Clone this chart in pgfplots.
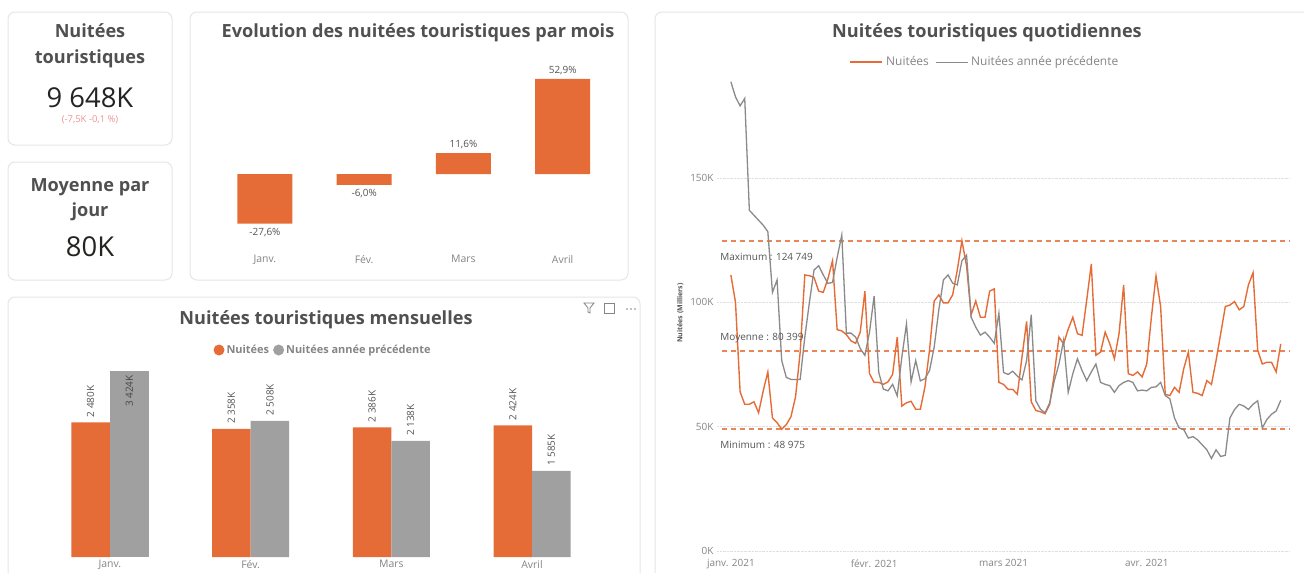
\documentclass[border=0pt]{standalone}
\usepackage{fontspec}
\setmainfont{Open Sans}
\usepackage{pgfplots}
\usepackage{pgfplotstable}
\pgfplotsset{compat=1.18}

\definecolor{pbiorange}{HTML}{E66C37}
\definecolor{pbigrey}{HTML}{A0A0A0}
\definecolor{linegrey}{HTML}{8A8A8A}
\definecolor{titlegrey}{HTML}{505050}
\definecolor{labelgrey}{HTML}{555555}
\definecolor{tickgrey}{HTML}{858585}
\definecolor{cardline}{HTML}{E6E6E6}
\definecolor{refline}{HTML}{EA8459}
\definecolor{deltared}{HTML}{EE9494}
\definecolor{kpiblack}{HTML}{252423}

% daily values, thousands (day 0 = 1 Jan 2021)
\pgfplotstableread{
day nuit prev
0 111 188.7
1 100 182.6
2 64 179
3 59 182
4 59 137
5 60 135
6 55.6 133
7 64.4 131
8 72 128.4
9 53.5 104
10 51.6 109
11 48.975 76.6
12 50.8 69.8
13 54 69
14 62 69
15 80 69
16 111 86
17 110.7 100
18 110 113
19 104.5 114.7
20 104 111
21 109.5 107.6
22 116.7 108
23 89 118
24 88.5 127
25 87 87.6
26 84.5 87.6
27 83.5 86
28 88 81.4
29 104.5 78.7
30 71.3 88
31 67.8 102.5
32 67.8 71.8
33 67 65.1
34 68 64.4
35 71 67
36 86 62.4
37 58.3 78
38 59.6 91.3
39 60.2 68
40 57 76.6
41 57 68.4
42 66 69.3
43 81 72.6
44 100.5 82
45 103 97
46 99.8 109
47 99.8 111
48 103 107.7
49 113 107
50 124.749 116.7
51 114.7 119
52 95 94
53 100.5 90
54 94 86.8
55 94 88
56 104.5 86
57 105.4 83.5
58 67.8 95.6
59 67 71.8
60 65 71
61 65 72.3
62 63 70.3
63 78 68.8
64 92.3 76.6
65 60 95
66 56.5 60.4
67 56 57
68 55.2 55.6
69 59 59.6
70 71.3 68.5
71 86 75.2
72 83.3 84.7
73 89.2 63.8
74 94 71.3
75 87.4 77.3
76 86.7 72.6
77 100.8 68.5
78 115.4 72
79 78.7 75.2
80 80 67.8
81 88 67
82 83.3 66.5
83 77.3 63.8
84 87.4 66.5
85 107 67.8
86 71.3 68.5
87 70.6 67.8
88 72 64.4
89 70 64.7
90 75.2 64.4
91 94 65.8
92 110.6 66
93 98.3 67.8
94 63 62.5
95 62.5 61.2
96 65.8 53.5
97 63.8 49.5
98 73.3 48.8
99 80 45.4
100 63.8 46
101 63.4 44.7
102 62.5 42.7
103 68.5 40.7
104 67 37.2
105 76.6 40.7
106 87.4 38
107 98.3 38.5
108 98.9 53.5
109 100.3 56.9
110 97 59
111 98.3 58.3
112 107 56.9
113 111.9 59
114 80.8 60.4
115 75.2 49.5
116 75.9 52.9
117 75.9 55
118 72 56.3
119 83.3 60.6
}\daily

\begin{document}
\begin{tikzpicture}
\useasboundingbox (0,0) rectangle (1304bp,-573bp);
\fill[white] (0,0) rectangle (1304bp,-573bp);

% cards
\begin{scope}[cardline, line width=1bp, rounded corners=7bp]
  \draw (8bp,-12bp) rectangle (172bp,-145bp);
  \draw (8bp,-162bp) rectangle (172bp,-280bp);
  \draw (190bp,-12bp) rectangle (628bp,-280bp);
  \draw (8bp,-297bp) rectangle (640bp,-585bp);
  \draw (655bp,-12bp) rectangle (1310bp,-585bp);
\end{scope}

% KPI cards and titles
\begin{scope}[every node/.style={anchor=base, inner sep=0pt}]
  \node[font=\fontsize{18.2}{21}\selectfont\bfseries, text=titlegrey] at (90bp,-37bp) {Nuitées};
  \node[font=\fontsize{18.2}{21}\selectfont\bfseries, text=titlegrey] at (90bp,-63bp) {touristiques};
  \node[font=\fontsize{27.5}{30}\selectfont, text=kpiblack] at (90bp,-107bp) {9 648K};
  \node[font=\fontsize{9.5}{11}\selectfont, text=deltared] at (90bp,-122bp) {(-7,5K -0,1 \%)};
  \node[font=\fontsize{18.2}{21}\selectfont\bfseries, text=titlegrey] at (90bp,-191bp) {Moyenne par};
  \node[font=\fontsize{18.2}{21}\selectfont\bfseries, text=titlegrey] at (90bp,-216bp) {jour};
  \node[font=\fontsize{27.5}{30}\selectfont, text=kpiblack] at (90bp,-256bp) {80K};
  \node[font=\fontsize{18.2}{21}\selectfont\bfseries, text=titlegrey] at (418bp,-37bp) {Evolution des nuitées touristiques par mois};
  \node[font=\fontsize{18.2}{21}\selectfont\bfseries, text=titlegrey] at (326bp,-324bp) {Nuitées touristiques mensuelles};
  \node[font=\fontsize{18.2}{21}\selectfont\bfseries, text=titlegrey] at (987bp,-37bp) {Nuitées touristiques quotidiennes};
\end{scope}

% visual header icons
\begin{scope}[draw=tickgrey, line width=0.8bp]
  \draw (584bp,-303bp) -- (594bp,-303bp) -- (590bp,-308bp) -- (590bp,-313bp) -- (588bp,-312bp) -- (588bp,-308bp) -- cycle;
  \draw (604bp,-303bp) rectangle (614bp,-313bp);
  \fill[tickgrey] (627bp,-309bp) circle (0.8bp) (631bp,-309bp) circle (0.8bp) (635bp,-309bp) circle (0.8bp);
\end{scope}

% Evolution par mois
\begin{axis}[
  at={(215.3bp,-50bp)}, anchor=north west, scale only axis,
  width=397bp, height=198bp,
  xmin=-0.5, xmax=3.5, ymin=-41.1, ymax=68.9,
  axis line style={draw=none}, tick style={draw=none},
  ytick=\empty, xtick={0,1,2,3},
  xticklabels={Janv.,Fév.,Mars,Avril},
  x tick label style={font=\fontsize{10.5}{12}\selectfont, text=tickgrey, yshift=-4bp},
  /pgf/number format/assume math mode=true,
  clip=false,
]
  \addplot[ybar, bar width=55bp, fill=pbiorange, draw=none,
    nodes near coords={\pgfmathprintnumber[fixed, fixed zerofill, precision=1, use comma]{\pgfplotspointmeta}\%},
    nodes near coords align={vertical},
    every node near coord/.append style={font=\fontsize{10}{12}\selectfont, text=labelgrey, inner sep=4bp}]
    coordinates {(0,-27.6) (1,-6.0) (2,11.6) (3,52.9)};
\end{axis}

% Nuitées mensuelles
\begin{axis}[
  at={(39.6bp,-365bp)}, anchor=north west, scale only axis,
  width=562.8bp, height=192bp,
  xmin=-0.5, xmax=3.5, ymin=0, ymax=3536,
  axis line style={draw=none}, tick style={draw=none},
  ytick=\empty, xtick={0,1,2,3},
  xticklabels={Janv.,Fév.,Mars,Avril},
  x tick label style={font=\fontsize{10.5}{12}\selectfont, text=tickgrey},
  /pgf/number format/assume math mode=true,
  clip=false,
  legend style={at={(0.5036,1.078)}, anchor=center, draw=none, fill=none,
    font=\fontsize{11}{13}\selectfont\bfseries, text=tickgrey,
    /tikz/every even column/.append style={column sep=2bp}},
  legend columns=-1,
  legend cell align=left,
]
  \addplot[ybar, bar width=38.5bp, bar shift=-19.3bp, fill=pbiorange, draw=none,
    legend image code/.code={\fill[pbiorange] (0.3em,0) circle (5.5bp);},
    nodes near coords={\rotatebox{90}{\pgfmathprintnumber[fixed, precision=0, 1000 sep={\ }]{\pgfplotspointmeta}K}},
    every node near coord/.append style={anchor=south, xshift=-19.3bp, font=\fontsize{10}{12}\selectfont, text=labelgrey, inner sep=5bp}]
    coordinates {(0,2480) (1,2358) (2,2386) (3,2424)};
  \addlegendentry{Nuitées}
  \addplot[ybar, bar width=38.5bp, bar shift=19.3bp, fill=pbigrey, draw=none,
    legend image code/.code={\fill[pbigrey] (0.3em,0) circle (5.5bp);},
    nodes near coords={\rotatebox{90}{\pgfmathprintnumber[fixed, precision=0, 1000 sep={\ }]{\pgfplotspointmeta}K}},
    every node near coord/.append style={anchor=south, xshift=19.3bp, font=\fontsize{10}{12}\selectfont, text=labelgrey, inner sep=5bp}]
    coordinates {(1,2508) (2,2138) (3,1585)};
  \addlegendentry{Nuitées année précédente}
  \addplot[ybar, bar width=38.5bp, bar shift=19.3bp, fill=pbigrey, draw=none, forget plot,
    nodes near coords={\rotatebox{90}{\pgfmathprintnumber[fixed, precision=0, 1000 sep={\ }]{\pgfplotspointmeta}K}},
    every node near coord/.append style={anchor=north, xshift=19.3bp, font=\fontsize{10}{12}\selectfont, text=kpiblack!85, inner sep=4bp}]
    coordinates {(0,3424)};
\end{axis}

% Nuitées quotidiennes
\begin{axis}[
  at={(717bp,-75bp)}, anchor=north west, scale only axis,
  width=573bp, height=476bp,
  xmin=-3, xmax=121, ymin=0, ymax=191.4,
  axis line style={draw=none}, tick style={draw=none},
  ytick={0,50,100,150}, yticklabels={0K,50K,100K,150K},
  xtick={0,31,59,90},
  xticklabels={janv. 2021,févr. 2021,mars 2021,avr. 2021},
  tick label style={font=\fontsize{10}{12}\selectfont, text=tickgrey},
  x tick label style={yshift=-5bp},
  ymajorgrids, grid style={densely dotted, line width=0.9bp, black!12},
  ylabel={Nuitées (Milliers)},
  ylabel style={font=\fontsize{7}{8}\selectfont\bfseries, text=labelgrey},
  /pgf/number format/assume math mode=true,
  legend style={at={(0.4677,1.027)}, anchor=center, draw=none, fill=none,
    font=\fontsize{12}{14}\selectfont, text=tickgrey,
    /tikz/every odd column/.append style={column sep=1bp},
    /tikz/every even column/.append style={column sep=4bp}},
  legend columns=-1,
  legend image code/.code={\draw[#1] (0bp,0bp) -- (32bp,0bp);},
]
  \addplot[refline, line width=2bp, dash pattern=on 5bp off 4bp, forget plot] coordinates {(-2,124.749) (121,124.749)};
  \addplot[refline, line width=2bp, dash pattern=on 5bp off 4bp, forget plot] coordinates {(-2,80.399) (121,80.399)};
  \addplot[refline, line width=2bp, dash pattern=on 5bp off 4bp, forget plot] coordinates {(-2,48.975) (121,48.975)};
  \addplot[pbiorange, line width=1.4bp] table[x=day, y=nuit] {\daily};
  \addlegendentry{Nuitées}
  \addplot[linegrey, line width=1.3bp] table[x=day, y=prev] {\daily};
  \addlegendentry{Nuitées année précédente}
  \begin{scope}[every node/.style={font=\fontsize{10}{12}\selectfont, text=labelgrey, anchor=west, inner sep=0pt}]
    \node at (axis cs:-2.3,118.3) {Maximum : 124 749};
    \node at (axis cs:-2.3,85.7) {Moyenne : 80 399};
    \node at (axis cs:-2.3,42.5) {Minimum : 48 975};
  \end{scope}
\end{axis}
\end{tikzpicture}
\end{document}
